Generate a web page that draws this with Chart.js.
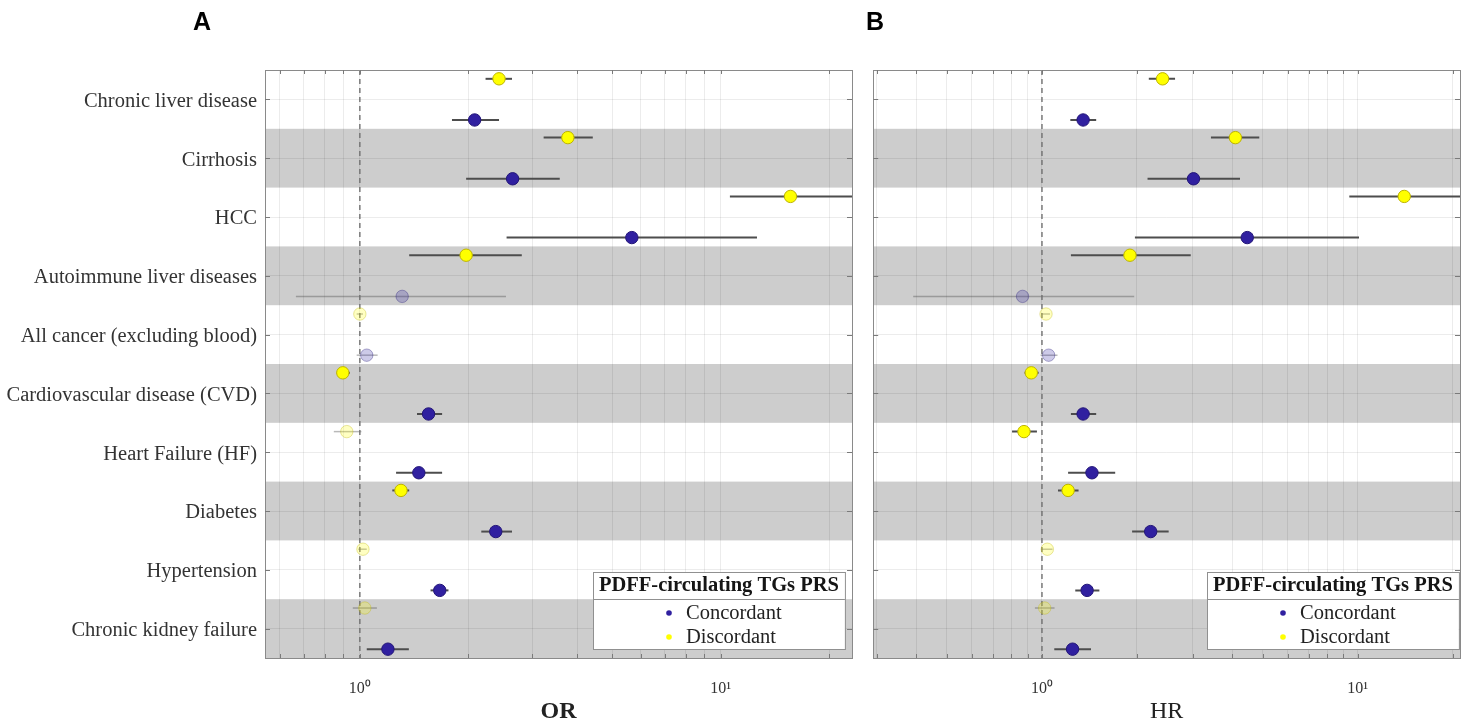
<!DOCTYPE html>
<html><head><meta charset="utf-8">
<script src="https://cdn.jsdelivr.net/npm/chart.js@4.4.1/dist/chart.umd.min.js"></script>
<style>
html,body{margin:0;padding:0;background:#fff;width:1471px;height:723px;overflow:hidden;}
#wrap{position:relative;width:1471px;height:723px;}
canvas{position:absolute;top:0;}
#cA{left:0;}
#cB{left:866px;}
.plabel{position:absolute;font:bold 25px "Liberation Sans",Arial,sans-serif;line-height:25px;color:#000;}
</style></head><body>
<div id="wrap">
<canvas id="cA" width="866" height="723"></canvas>
<canvas id="cB" width="605" height="723"></canvas>
<div class="plabel" style="left:193px;top:9px">A</div>
<div class="plabel" style="left:866px;top:9px">B</div>
</div>
<script>
// ---------------- data ----------------
const categories = ['Chronic liver disease','Cirrhosis','HCC','Autoimmune liver diseases','All cancer (excluding blood)','Cardiovascular disease (CVD)','Heart Failure (HF)','Diabetes','Hypertension','Chronic kidney failure'];
const seriesNames = ['Concordant','Discordant'];
const legendTitle = 'PDFF-circulating TGs PRS';

// Panel A: odds ratios (OR) with 95% CI
const orConc   = [2.08, 2.65, 5.67, 1.31, 1.045, 1.55, 1.457, 2.38, 1.665, 1.196];
const orConcLo = [1.80, 1.97, 2.55, 0.665, 0.98, 1.44, 1.26, 2.17, 1.57, 1.045];
const orConcHi = [2.43, 3.58, 12.6, 2.54, 1.12, 1.69, 1.69, 2.64, 1.76, 1.367];
const orDisc   = [2.43, 3.77, 15.6, 1.97, 1.00, 0.897, 0.92, 1.30, 1.02, 1.032];
const orDiscLo = [2.23, 3.23, 10.6, 1.37, 0.98, 0.863, 0.847, 1.23, 0.99, 0.956];
const orDiscHi = [2.64, 4.42, 28.0, 2.81, 1.02, 0.938, 1.01, 1.37, 1.045, 1.115];

// Panel B: hazard ratios (HR) with 95% CI
const hrConc   = [1.35, 3.02, 4.47, 0.868, 1.05, 1.35, 1.44, 2.21, 1.39, 1.25];
const hrConcLo = [1.23, 2.16, 1.97, 0.391, 0.99, 1.235, 1.21, 1.93, 1.275, 1.094];
const hrConcHi = [1.485, 4.24, 10.1, 1.96, 1.12, 1.485, 1.706, 2.52, 1.52, 1.43];
const hrDisc   = [2.41, 4.10, 14.05, 1.90, 1.03, 0.925, 0.877, 1.21, 1.04, 1.02];
const hrDiscLo = [2.18, 3.43, 9.41, 1.235, 0.995, 0.881, 0.804, 1.124, 0.995, 0.95];
const hrDiscHi = [2.64, 4.88, 25.0, 2.96, 1.06, 0.976, 0.964, 1.306, 1.08, 1.096];

// axis ticks
const gridTicksA = [0.6,0.7,0.8,0.9,1,2,3,4,5,6,7,8,9,10,20];
const gridTicksB = [0.3,0.4,0.5,0.6,0.7,0.8,0.9,1,2,3,4,5,6,7,8,9,10,20];
const majorTickValues = [1, 10];
const majorTickLabels = ['10\u2070', '10\u00B9'];

// ---------------- style ----------------
const SERIF = '"Liberation Serif","Times New Roman",serif';
const BLUE = [48,32,160], YELLOW = [255,255,0];
const rgba = (c,a) => `rgba(${c[0]},${c[1]},${c[2]},${a})`;

function groupDatasets(vals, lo, hi, offset, col, edge, name) {
  const sig = vals.map((v,i) => !(lo[i] <= 1 && hi[i] >= 1));
  const pts = {
    type: 'scatter', label: name, order: 0,
    data: vals.map((v,i) => ({x: v, y: i + 1 + offset})),
    pointRadius: 6.2, pointHoverRadius: 6.2, pointBorderWidth: 1,
    pointBackgroundColor: sig.map(s => s ? rgba(col,1) : rgba(col,0.24)),
    pointBorderColor: sig.map(s => s ? rgba(edge,1) : rgba(edge,0.35)),
    showLine: false
  };
  const lines = vals.map((v,i) => ({
    type: 'scatter', showLine: true, order: 5, label: '_ci',
    data: [{x: lo[i], y: i + 1 + offset}, {x: hi[i], y: i + 1 + offset}],
    borderColor: sig[i] ? '#4d4d4d' : 'rgba(70,70,70,0.38)',
    borderWidth: sig[i] ? 2 : 1.5, pointRadius: 0
  }));
  return [pts, ...lines];
}

function buildDatasets(c, cLo, cHi, d, dLo, dHi) {
  return [
    ...groupDatasets(d, dLo, dHi, -0.35, YELLOW, [190,180,0], seriesNames[1]),
    ...groupDatasets(c, cLo, cHi, 0.35, BLUE, [35,22,120], seriesNames[0]),
    { type: 'scatter', showLine: true, order: 4, label: '_ref',
      data: [{x: 1, y: 0.5}, {x: 1, y: 10.5}],
      borderColor: '#707070', borderWidth: 1.4, borderDash: [5,4], pointRadius: 0 }
  ];
}

const framePlugin = {
  id: 'frame',
  beforeDraw(chart) {
    const {ctx, chartArea: a, scales: {y}} = chart;
    ctx.save();
    ctx.fillStyle = '#cdcdcd';
    categories.forEach((c,i) => {
      if (i % 2 === 1) {
        const y0 = y.getPixelForValue(i + 0.5), y1 = y.getPixelForValue(i + 1.5);
        ctx.fillRect(a.left, y0, a.right - a.left, y1 - y0);
      }
    });
    ctx.restore();
  },
  afterDraw(chart, args, opts) {
    const {ctx, chartArea: a, scales: {x, y}} = chart;
    ctx.save();
    ctx.strokeStyle = '#8a8a8a'; ctx.lineWidth = 1;
    ctx.strokeRect(Math.round(a.left) + 0.5, Math.round(a.top) + 0.5, Math.round(a.right - a.left), Math.round(a.bottom - a.top));
    ctx.strokeStyle = '#7a7a7a';
    ctx.beginPath();
    x.ticks.forEach(t => {
      const px = Math.round(x.getPixelForValue(t.value)) + 0.5;
      ctx.moveTo(px, a.bottom); ctx.lineTo(px, a.bottom - 4);
      ctx.moveTo(px, a.top); ctx.lineTo(px, a.top + 4);
    });
    y.ticks.forEach(t => {
      const py = Math.round(y.getPixelForValue(t.value)) + 0.5;
      ctx.moveTo(a.left, py); ctx.lineTo(a.left + 5, py);
      ctx.moveTo(a.right, py); ctx.lineTo(a.right - 5, py);
    });
    ctx.stroke();

    // legend
    ctx.font = 'bold 20.5px ' + SERIF;
    const tw = ctx.measureText(legendTitle).width;
    const w = tw + 12, h = 77;
    const L = Math.round(a.right - opts.right - w), T = Math.round(a.bottom - 9 - h);
    ctx.fillStyle = '#fff';
    ctx.fillRect(L, T, w, h);
    ctx.strokeStyle = '#909090';
    ctx.strokeRect(L + 0.5, T + 0.5, w, h);
    ctx.beginPath(); ctx.moveTo(L, T + 27.5); ctx.lineTo(L + w, T + 27.5); ctx.stroke();
    ctx.fillStyle = '#151515'; ctx.textBaseline = 'middle'; ctx.textAlign = 'left';
    ctx.fillText(legendTitle, L + 6, T + 14);
    ctx.font = '20.5px ' + SERIF;
    [[seriesNames[0], BLUE], [seriesNames[1], YELLOW]].forEach(([name, col], k) => {
      const yy = T + 41 + k * 24;
      ctx.fillStyle = rgba(col, 1);
      ctx.beginPath(); ctx.arc(L + 76, yy, 2.8, 0, Math.PI * 2); ctx.fill();
      ctx.fillStyle = '#222';
      ctx.fillText(name, L + 93, yy + 1);
    });
    ctx.restore();
  }
};

function makeChart(id, opt) {
  return new Chart(document.getElementById(id), {
    type: 'scatter',
    data: { datasets: opt.datasets },
    plugins: [framePlugin],
    options: {
      responsive: false, animation: false, devicePixelRatio: 1, events: [],
      layout: { padding: { top: 70, right: opt.padRight, left: 0, bottom: 0 } },
      plugins: { legend: { display: false }, tooltip: { enabled: false }, frame: { right: opt.legendRight } },
      scales: {
        x: {
          type: 'logarithmic', min: opt.min, max: opt.max,
          afterBuildTicks: s => { s.ticks = opt.gridTicks.filter(v => v >= opt.min && v <= opt.max).map(v => ({value: v})); },
          afterFit: s => { s.height = 65; s.paddingLeft = 0; s.paddingRight = 0; },
          ticks: {
            autoSkip: false, maxRotation: 0, padding: 21, color: '#333',
            font: { family: SERIF, size: 16 },
            callback: v => { const k = majorTickValues.indexOf(v); return k >= 0 ? majorTickLabels[k] : ''; }
          },
          grid: { color: 'rgba(0,0,0,0.075)', drawTicks: false },
          border: { display: false },
          title: { display: true, text: opt.title, color: '#222', padding: { top: 0, bottom: -3 },
                   font: { family: SERIF, size: 24, weight: opt.titleBold ? 'bold' : 'normal' } }
        },
        y: {
          type: 'linear', min: 0.5, max: 10.5, reverse: true,
          afterBuildTicks: s => { s.ticks = categories.map((c,i) => ({value: i + 1})); },
          afterFit: s => { s.width = opt.yWidth; s.paddingTop = 0; s.paddingBottom = 0; },
          ticks: { display: opt.showY, padding: 8, labelOffset: 2, color: '#333', font: { family: SERIF, size: 20.5 },
                   callback: v => categories[Math.round(v) - 1] },
          grid: { color: 'rgba(0,0,0,0.075)', drawTicks: false },
          border: { display: false }
        }
      }
    }
  });
}

makeChart('cA', {
  datasets: buildDatasets(orConc, orConcLo, orConcHi, orDisc, orDiscLo, orDiscHi),
  min: 0.546, max: 23.1, gridTicks: gridTicksA, title: 'OR', titleBold: true,
  yWidth: 265, showY: true, padRight: 14, legendRight: 7
});
makeChart('cB', {
  datasets: buildDatasets(hrConc, hrConcLo, hrConcHi, hrDisc, hrDiscLo, hrDiscHi),
  min: 0.292, max: 21.1, gridTicks: gridTicksB, title: 'HR', titleBold: false,
  yWidth: 7, showY: false, padRight: 11, legendRight: 1
});
</script>
</body></html>
